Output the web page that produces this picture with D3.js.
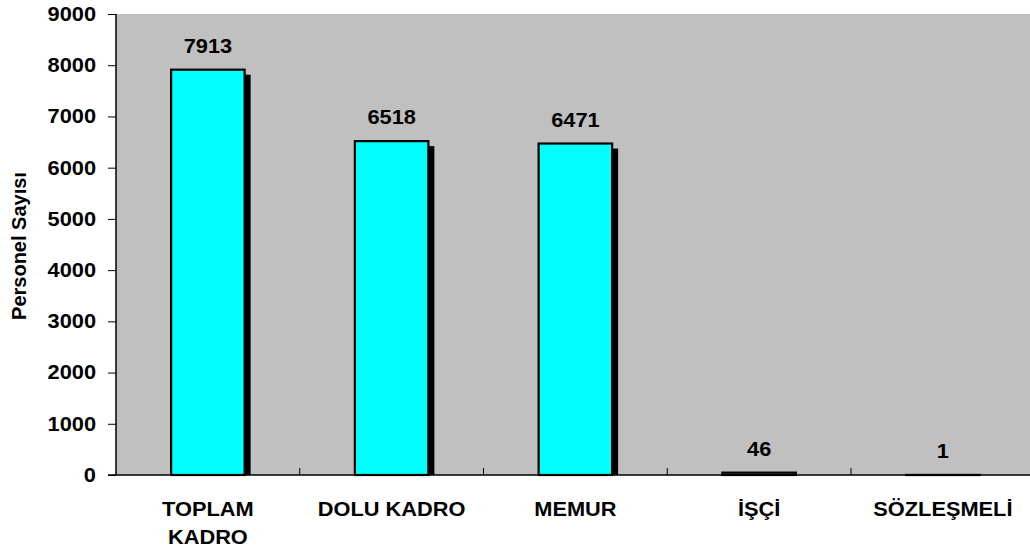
<!DOCTYPE html>
<html><head><meta charset="utf-8">
<script src="https://cdn.jsdelivr.net/npm/d3@7"></script>
<style>
html,body{margin:0;padding:0;background:#fff;}
text{font-family:"Liberation Sans",Arial,sans-serif;font-weight:bold;fill:#000;}
</style></head>
<body><svg id="c" width="1030" height="552"></svg>
<script>
const categories = ["TOPLAM KADRO","DOLU KADRO","MEMUR","İŞÇİ","SÖZLEŞMELİ"];
const categoryLines = [["TOPLAM","KADRO"],["DOLU KADRO"],["MEMUR"],["İŞÇİ"],["SÖZLEŞMELİ"]];
const values = [7913,6518,6471,46,1];
const yTicks = [0,1000,2000,3000,4000,5000,6000,7000,8000,9000];
const yTitle = "Personel Sayısı";

(function(){
const svg = d3.select("#c");
const pL = 116, pT = 14, pB = 475, catW = 183.75;
const pR = pL + catW*categories.length;
const FS = 20, SX = 1.09;
const x = d3.scaleBand().domain(categories).range([pL,pR]).paddingInner(0.6).paddingOuter(0.3);
const y = d3.scaleLinear().domain([0,9000]).range([pB,pT]);

svg.append("rect").attr("x",pL).attr("y",pT).attr("width",pR-pL).attr("height",pB-pT).attr("fill","#c0c0c0");

svg.append("clipPath").attr("id","pc").append("rect").attr("x",pL).attr("y",pT).attr("width",pR-pL).attr("height",pB-pT);

// shadows
svg.append("g").attr("clip-path","url(#pc)").selectAll("rect").data(values).join("rect")
  .attr("x",(d,i)=>x(categories[i])+6).attr("y",d=>y(d)+5)
  .attr("width",x.bandwidth()).attr("height",d=>pB-y(d))
  .attr("fill","#000");
// bars
svg.append("g").selectAll("rect").data(values).join("rect")
  .attr("x",(d,i)=>x(categories[i])).attr("y",d=>y(d))
  .attr("width",x.bandwidth()).attr("height",d=>pB-y(d))
  .attr("fill","#00ffff").attr("stroke","#000").attr("stroke-width",2.2);

// value labels
svg.append("g").selectAll("text").data(values).join("text")
  .attr("transform",(d,i)=>`translate(${x(categories[i])+x.bandwidth()/2},${y(d)-17}) scale(${SX},1)`)
  .attr("text-anchor","middle").attr("font-size",FS).text(d=>d);

// y axis
const ya = svg.append("g").attr("transform",`translate(${pL},0)`)
  .call(d3.axisLeft(y).tickValues(yTicks).tickSize(8).tickPadding(12).tickFormat(d3.format("d")));
ya.select(".domain").attr("stroke","#000").attr("stroke-width",1.5).attr("d",`M0,${pT}V${pB}`);
ya.selectAll(".tick line").attr("stroke","#000");
ya.selectAll(".tick text").attr("font-size",FS).attr("font-family","Liberation Sans, Arial, sans-serif")
  .attr("font-weight","bold").attr("fill","#000")
  .attr("x",0).attr("transform",`translate(-20,0) scale(${SX},1)`);

// x axis
const xa = svg.append("g").attr("transform",`translate(0,${pB})`);
xa.append("line").attr("x1",pL-8).attr("x2",pR).attr("y1",0).attr("y2",0).attr("stroke","#000").attr("stroke-width",1.5);
xa.selectAll("line.t").data(d3.range(1,categories.length)).join("line").attr("class","t")
  .attr("x1",i=>pL+i*catW).attr("x2",i=>pL+i*catW).attr("y1",-7).attr("y2",0).attr("stroke","#000");
xa.selectAll("text").data(categories).join("text")
  .attr("transform",d=>`translate(${x(d)+x.bandwidth()/2},41) scale(${SX},1)`)
  .attr("text-anchor","middle").attr("font-size",FS)
  .each(function(d,i){
    d3.select(this).selectAll("tspan").data(categoryLines[i]).join("tspan")
      .attr("x",0).attr("dy",(t,j)=>j?28:0).text(t=>t);
  });

svg.append("text").attr("transform",`translate(26,246) rotate(-90)`)
  .attr("text-anchor","middle").attr("font-size",20).text(yTitle);
})();
</script></body></html>
